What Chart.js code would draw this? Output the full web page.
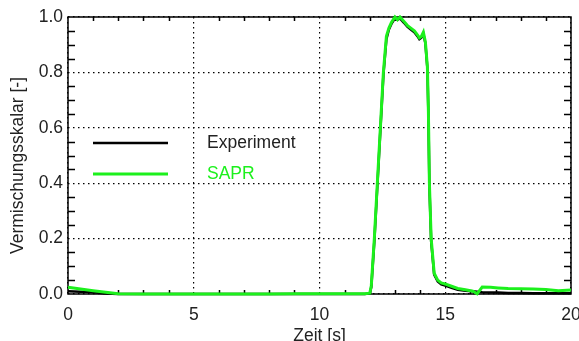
<!DOCTYPE html>
<html>
<head>
<meta charset="utf-8">
<script src="https://cdn.jsdelivr.net/npm/chart.js@4.4.1/dist/chart.umd.min.js"></script>
<style>
  html, body { margin: 0; padding: 0; background: #fff; }
  #wrap { width: 579px; height: 341px; }
</style>
</head>
<body>
<div id="wrap"><canvas id="myChart" width="579" height="341"></canvas></div>
<script>
// time in seconds
const time = [0, 0.5, 1, 1.5, 2, 3, 4, 5, 6, 7, 8, 9, 10, 11, 11.8, 12.0, 12.06, 12.18, 12.3, 12.42,
    12.54, 12.66, 12.76, 12.86, 13.0, 13.1, 13.2, 13.35, 13.49, 13.63, 13.77, 13.9, 13.97, 14.05, 14.13,
    14.21, 14.29, 14.33, 14.37, 14.44, 14.56, 14.7, 14.84, 15.0, 15.25, 15.5, 15.8, 16.1, 16.27, 16.47,
    16.8, 17.1, 17.5, 18, 18.5, 19, 19.5, 20];

const experiment = [0.01, 0.008, 0.006, 0.002, 0, 0, 0, 0, 0, 0, 0, 0, 0, 0, 0, 0.002, 0.025, 0.19, 0.39, 0.59,
    0.79, 0.92, 0.955, 0.975, 0.995, 0.99, 0.995, 0.98, 0.965, 0.955, 0.945, 0.93, 0.92, 0.925, 0.94,
    0.905, 0.815, 0.65, 0.39, 0.19, 0.07, 0.045, 0.035, 0.03, 0.022, 0.015, 0.012, 0.01, 0.008, 0.006,
    0.005, 0.005, 0.004, 0.004, 0.003, 0.003, 0.003, 0.003];

const sapr = [0.024, 0.018, 0.012, 0.006, 0.001, 0, 0, 0, 0, 0, 0, 0.001, 0.001, 0.001, 0.001, 0.003, 0.03, 0.2, 0.4, 0.6,
    0.8, 0.93, 0.96, 0.98, 1.0, 0.99, 1.0, 0.985, 0.97, 0.96, 0.95, 0.935, 0.925, 0.93, 0.945,
    0.91, 0.82, 0.66, 0.4, 0.2, 0.075, 0.05, 0.04, 0.036, 0.028, 0.02, 0.015, 0.01, 0.001, 0.025,
    0.024, 0.022, 0.02, 0.019, 0.018, 0.016, 0.012, 0.014];

const seriesNames = ['Experiment', 'SAPR'];
const xTitle = 'Zeit [s]';
const yTitle = 'Vermischungsskalar [-]';

const black = '#000000';
const green = '#1cf01c';
const FONT = '"Liberation Sans", Arial, sans-serif';

function toPoints(values) {
    return values.map((v, i) => ({ x: time[i], y: v }));
}

// frame, minor ticks, legend and y title, IDL style
const framePlugin = {
    id: 'frame',
    beforeDatasetsDraw(chart) {
        const { ctx, chartArea: a, scales } = chart;
        ctx.save();
        ctx.strokeStyle = black;
        ctx.lineWidth = 1.5;
        ctx.beginPath();
        for (let v = 0.05; v < 1; v += 0.05) {
            if (Math.abs(v / 0.2 - Math.round(v / 0.2)) < 0.01) continue;
            const y = Math.round(scales.y.getPixelForValue(v)) + 0.5;
            ctx.moveTo(a.left, y); ctx.lineTo(a.left + 7, y);
            ctx.moveTo(a.right, y); ctx.lineTo(a.right - 7, y);
        }
        for (let t = 1; t < 20; t++) {
            if (t % 5 === 0) continue;
            const x = Math.round(scales.x.getPixelForValue(t)) + 0.5;
            ctx.moveTo(x, a.bottom); ctx.lineTo(x, a.bottom - 4);
            ctx.moveTo(x, a.top); ctx.lineTo(x, a.top + 4);
        }
        ctx.stroke();
        ctx.strokeRect(a.left, a.top, a.right - a.left, a.bottom - a.top);
        ctx.restore();
    },
    afterDatasetsDraw(chart) {
        const { ctx, chartArea: a } = chart;
        const rows = [
            { y: a.top + 126, color: black, text: '#222', width: 2.5 },
            { y: a.top + 157, color: green, text: green, width: 3 }
        ];
        ctx.save();
        ctx.font = '17.5px ' + FONT;
        ctx.textBaseline = 'middle';
        rows.forEach((r, i) => {
            ctx.strokeStyle = r.color;
            ctx.lineWidth = r.width;
            ctx.beginPath();
            ctx.moveTo(a.left + 25, r.y);
            ctx.lineTo(a.left + 100, r.y);
            ctx.stroke();
            ctx.fillStyle = r.text;
            ctx.fillText(chart.data.datasets[i].label, a.left + 139, r.y);
        });
        // y axis title, sits a bit below the centre of the axis
        ctx.translate(18, (a.top + a.bottom) / 2 + 10);
        ctx.rotate(-Math.PI / 2);
        ctx.textAlign = 'center';
        ctx.fillStyle = '#222';
        ctx.fillText(yTitle, 0, 0);
        ctx.restore();
    }
};

function fixWidth(w) {
    return scale => {
        scale.width = w;
        scale.paddingLeft = 0; scale.paddingRight = 0;
        scale.paddingTop = 0; scale.paddingBottom = 0;
    };
}
function fixHeight(h) {
    return scale => {
        scale.height = h;
        scale.paddingLeft = 0; scale.paddingRight = 0;
        scale.paddingTop = 0; scale.paddingBottom = 0;
    };
}

const ctx = document.getElementById('myChart').getContext('2d');
const chart = new Chart(ctx, {
    type: 'line',
    data: {
        datasets: [{
            label: seriesNames[0],
            data: toPoints(experiment),
            borderColor: black,
            borderWidth: 2.5,
            pointRadius: 0,
            tension: 0,
            order: 1
        }, {
            label: seriesNames[1],
            data: toPoints(sapr),
            borderColor: green,
            borderWidth: 3,
            pointRadius: 0,
            tension: 0,
            order: 0
        }]
    },
    options: {
        responsive: false,
        animation: false,
        clip: false,
        layout: { padding: { left: 0, right: 8, top: 17, bottom: 0 } },
        plugins: {
            legend: { display: false },
            tooltip: { enabled: false }
        },
        scales: {
            x: {
                type: 'linear',
                min: 0,
                max: 20,
                border: { display: false, dash: [1.5, 3.5] },
                grid: {
                    color: black,
                    lineWidth: 1.2,
                    drawTicks: false
                },
                ticks: {
                    stepSize: 5,
                    padding: 11,
                    maxRotation: 0,
                    color: '#222',
                    font: { family: FONT, size: 17.5 }
                },
                title: {
                    display: true,
                    text: xTitle,
                    color: '#222',
                    padding: { top: 0, bottom: -4 },
                    font: { family: FONT, size: 17.5, lineHeight: 1 }
                },
                afterFit: fixHeight(47)
            },
            y: {
                min: 0,
                max: 1,
                border: { display: false, dash: [1.5, 3.5] },
                grid: {
                    color: black,
                    lineWidth: 1.2,
                    drawTicks: false
                },
                ticks: {
                    stepSize: 0.2,
                    padding: 5,
                    color: '#222',
                    font: { family: FONT, size: 17.5 },
                    callback: v => v.toFixed(1)
                },
                afterFit: fixWidth(68)
            }
        }
    },
    plugins: [framePlugin]
});
</script>
</body>
</html>
